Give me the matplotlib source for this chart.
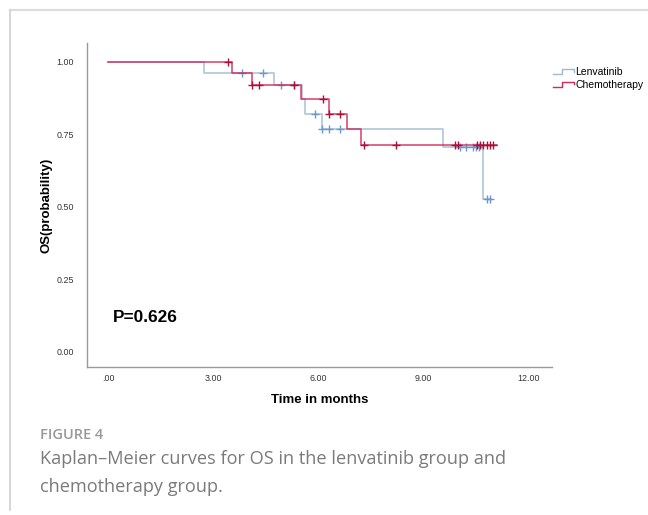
import numpy as np
import matplotlib
matplotlib.use("Agg")
import matplotlib.pyplot as plt
from matplotlib.lines import Line2D
from matplotlib.legend_handler import HandlerBase

# Kaplan-Meier step data (time in months, survival probability)
lenva_times = [0.0, 2.73, 4.73, 5.53, 5.61, 6.10, 9.56, 10.69]
lenva_surv = [1.0, 0.960, 0.920, 0.871, 0.820, 0.767, 0.704, 0.527]
lenva_end = 10.92
lenva_censor = [3.81, 4.41, 4.93, 5.30, 5.90, 6.10, 6.30, 6.61,
                10.04, 10.21, 10.41, 10.50, 10.59, 10.81, 10.90]

chemo_times = [0.0, 3.53, 4.10, 5.50, 6.30, 6.81, 7.21]
chemo_surv = [1.0, 0.960, 0.920, 0.871, 0.820, 0.767, 0.712]
chemo_end = 11.10
chemo_censor = [3.41, 4.10, 4.30, 5.30, 6.13, 6.30, 6.61, 7.30, 8.21,
                9.90, 9.99, 10.52, 10.61, 10.71, 10.81, 10.90, 10.98]

x_ticks = [0, 3, 6, 9, 12]
x_ticklabels = [".00", "3.00", "6.00", "9.00", "12.00"]
y_ticks = [0, 0.25, 0.5, 0.75, 1.0]
y_ticklabels = ["0.00", "0.25", "0.50", "0.75", "1.00"]
p_text = "P=0.626"

LENVA_LINE = "#9dbad0"
LENVA_MARK = "#6f96d0"
CHEMO_LINE = "#d0285a"
CHEMO_MARK = "#a8103a"


def surv_at(times, surv, t):
    # value of the step function at time t (right-continuous)
    idx = np.searchsorted(times, t, side="right") - 1
    return np.array(surv)[idx]


class StepHandler(HandlerBase):
    def create_artists(self, legend, orig_handle, xdescent, ydescent,
                       width, height, fontsize, trans):
        xs = np.array([0, 0.45, 0.45, 1.0, 1.0]) * width - xdescent
        ys = np.array([0.15, 0.15, 0.8, 0.8, 0.45]) * height - ydescent
        ln = Line2D(xs, ys, color=orig_handle.get_color(), lw=1.0)
        ln.set_transform(trans)
        return [ln]


fig = plt.figure(figsize=(6.48, 5.15), dpi=100)
ax = fig.add_axes([86.7 / 648, 1 - 367 / 515, (551.7 - 86.7) / 648, (367 - 43.3) / 515])

tick_font = "Liberation Sans"

for times, surv, end, cens, lc, mc, lab in [
    (lenva_times, lenva_surv, lenva_end, lenva_censor, LENVA_LINE, LENVA_MARK, "Lenvatinib"),
    (chemo_times, chemo_surv, chemo_end, chemo_censor, CHEMO_LINE, CHEMO_MARK, "Chemotherapy"),
]:
    xs = list(times) + [end]
    ys = list(surv) + [surv[-1]]
    line, = ax.step(xs, ys, where="post", color=lc, lw=1.1, alpha=0.9, label=lab)
    cy = surv_at(times, surv, cens)
    ax.plot(cens, cy, ls="none", marker="+", ms=6, mew=1.0, color=mc)

ax.set_xlim(-0.62, 12.66)
ax.set_ylim(-0.053, 1.063)
ax.set_xticks(x_ticks)
ax.set_xticklabels(x_ticklabels)
ax.set_yticks(y_ticks)
ax.set_yticklabels(y_ticklabels)
ax.tick_params(length=0, labelsize=6.4, labelcolor="#333333")
for lbl in ax.get_xticklabels() + ax.get_yticklabels():
    lbl.set_fontfamily(tick_font)
ax.tick_params(axis="x", pad=5)
ax.tick_params(axis="y", pad=9)

for s in ["top", "right"]:
    ax.spines[s].set_visible(False)
for s in ["left", "bottom"]:
    ax.spines[s].set_color("#999999")
    ax.spines[s].set_linewidth(1.0)

ax.set_xlabel("Time in months", fontsize=9.5, fontweight="bold",
              fontfamily=tick_font, labelpad=8)
ax.set_ylabel("OS(probability)", fontsize=9.5, fontweight="bold",
              fontfamily=tick_font, labelpad=3)

ax.text(0.13, 0.103, p_text, fontsize=12.4, fontweight="bold",
        fontfamily=tick_font, va="baseline", ha="left")

leg = ax.legend(handler_map={Line2D: StepHandler()}, loc="upper left",
                bbox_to_anchor=(553 / 648, 1 - 67 / 515),
                bbox_transform=fig.transFigure, frameon=False,
                prop={"family": tick_font, "size": 7.5},
                handlelength=2.0, handletextpad=0.15, labelspacing=0.25,
                borderpad=0, borderaxespad=0)

# page frame lines
fig.add_artist(Line2D([10 / 648, 1], [1 - 10 / 515, 1 - 10 / 515],
                      transform=fig.transFigure, color="#dddddd", lw=1.6))
fig.add_artist(Line2D([10 / 648, 10 / 648], [1 - 10 / 515, 0.01],
                      transform=fig.transFigure, color="#d0d0d0", lw=1.2))

# caption
fig.text(40 / 648, 1 - 439 / 515, "FIGURE 4", fontsize=10.5, fontweight="semibold",
         fontfamily="Open Sans", color="#999999", va="baseline")
fig.text(40 / 648, 1 - 464 / 515, "Kaplan\u2013Meier curves for OS in the lenvatinib group and",
         fontsize=13.1, fontfamily="Open Sans", color="#7a7a7a", va="baseline")
fig.text(40 / 648, 1 - 492 / 515, "chemotherapy group.",
         fontsize=13.1, fontfamily="Open Sans", color="#7a7a7a", va="baseline")

fig.savefig("out.png", dpi=100)
